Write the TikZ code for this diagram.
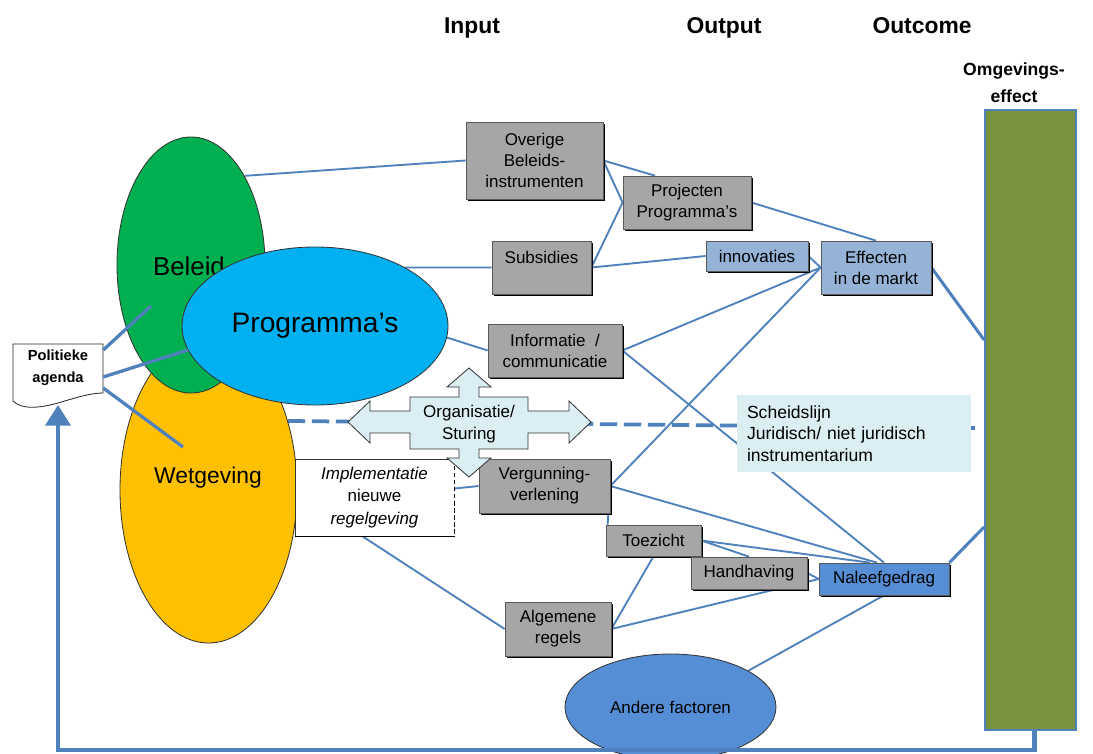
\documentclass[tikz,border=0pt]{standalone}
\usepackage{fontspec}
\setmainfont{Liberation Sans}
\usetikzlibrary{shapes.geometric,arrows.meta,shadows}

\definecolor{lineblue}{HTML}{4F81BD}
\definecolor{boxgray}{HTML}{A6A6A6}
\definecolor{paleblue}{HTML}{95B3D7}
\definecolor{midblue}{HTML}{558ED5}
\definecolor{palecyan}{HTML}{DBEEF4}
\definecolor{beleidgreen}{HTML}{00B050}
\definecolor{wetyellow}{HTML}{FFC000}
\definecolor{progcyan}{HTML}{00B0F0}
\definecolor{olivegreen}{HTML}{77933C}

\pgfdeclarelayer{bg}
\pgfsetlayers{bg,main}

\begin{document}
\begin{tikzpicture}[x=0.03cm,y=-0.03cm,
  link/.style={draw=lineblue, line width=1.6pt},
  thicklink/.style={draw=lineblue, line width=2.6pt},
  agendalink/.style={draw=lineblue, line width=2.8pt},
  dashline/.style={draw=lineblue, line width=3.2pt, dash pattern=on 0.52cm off 0.2cm},
  box/.style={rectangle, inner sep=0pt, align=center,
    font=\fontsize{14.5}{18}\selectfont, draw=black!65, line width=0.6pt,
    general shadow={fill=black, shadow xshift=1.9pt, shadow yshift=-1.9pt}},
  graybox/.style={box, fill=boxgray},
  bluebox/.style={box, fill=paleblue},
  blob/.style={ellipse, inner sep=0pt, draw=black!80, line width=0.7pt},
  header/.style={font=\bfseries\fontsize{19.5}{22}\selectfont, anchor=base},
]
\begin{pgfonlayer}{bg}
\fill[white] (0,0) rectangle (1093,753);
\end{pgfonlayer}
\useasboundingbox (0,0) rectangle (1093,753);

% column headers
\node[header] (input) at (472,33) {Input};
\node[header] (output) at (724,33) {Output};
\node[header] (outcome) at (922,33) {Outcome};
\node[font=\bfseries\fontsize{15}{23}\selectfont, align=center] (omg) at (1014,83) {Omgevings-\\effect};

% environmental effect bar
\node[fill=olivegreen, draw=lineblue, line width=1.5pt, minimum width=2.73cm,
      minimum height=18.6cm, inner sep=0pt] (green) at (1030.5,420) {};

% policy ellipses
\node[blob, fill=wetyellow, minimum width=5.31cm, minimum height=9.18cm] (wetgeving) at (208.5,490) {};
\node[font=\fontsize{19.5}{23}\selectfont] (wetgevingtext) at (208,478) {Wetgeving};
\node[blob, fill=beleidgreen, minimum width=4.44cm, minimum height=7.68cm] (beleid) at (191,265) {};
\node[font=\fontsize{22}{26}\selectfont] (beleidtext) at (189,266) {Beleid};
\node[blob, fill=progcyan, minimum width=7.98cm, minimum height=4.74cm,
      font=\fontsize{24}{28}\selectfont] (programmas) at (315,326) {Programma’s};
\node[blob, fill=midblue, minimum width=6.33cm, minimum height=3.18cm,
      font=\fontsize{14.5}{17}\selectfont] (andere) at (670.5,707) {Andere factoren};

% political agenda (document shape)
\draw[fill=white, draw=black!85, line width=0.7pt]
  (13,344) -- (103,344) -- (103,393)
  .. controls (90,393) and (75,398) .. (58,403)
  .. controls (40,408) and (22,410) .. (13,401) -- cycle;
\node[minimum width=2.7cm, minimum height=1.44cm, inner sep=0pt, align=center,
      font=\bfseries\fontsize{12.5}{18.5}\selectfont] (agenda) at (58,368) {Politieke\\agenda};
\coordinate (agendatip) at (58,405);
\coordinate (dashend) at (975,428);

\draw[agendalink] ([shift={(0,-18)}]agenda.east) -- ([shift={(-40,41)}]beleid.center);
\draw[agendalink] ([shift={(0,9)}]agenda.east) -- ([shift={(-127,24)}]programmas.center);
\draw[agendalink] ([shift={(0,20)}]agenda.east) -- ([shift={(-25.5,-43)}]wetgeving.center);

% instrument boxes
\node[graybox, minimum width=4.11cm, minimum height=2.31cm] (overige) at (534.5,160.5) {Overige\\Beleids-\\instrumenten};
\node[graybox, minimum width=2.97cm, minimum height=1.59cm] (subsidies) at (541.5,267.5) {Subsidies\\\mbox{}};
\node[graybox, minimum width=4.02cm, minimum height=1.59cm] (informatie) at (555,350.5) {Informatie~~/\\communicatie};
\node[graybox, minimum width=3.84cm, minimum height=1.59cm] (projecten) at (687,202.5) {Projecten\\Programma’s};
\node[bluebox, minimum width=3.06cm, minimum height=0.9cm] (innovaties) at (757,256) {innovaties};
\node[bluebox, minimum width=3.3cm, minimum height=1.59cm] (effecten) at (876,267.5) {Effecten\\in de markt};
\node[graybox, minimum width=3.93cm, minimum height=1.62cm] (vergunning) at (544.5,486) {Vergunning-\\verlening};
\node[graybox, minimum width=2.85cm, minimum height=0.93cm] (toezicht) at (653.5,540.5) {Toezicht};
\node[graybox, minimum width=3.48cm, minimum height=0.96cm] (handhaving) at (749,573) {Handhaving};
\node[box, fill=midblue, minimum width=3.9cm, minimum height=0.96cm] (naleef) at (884,579) {Naleefgedrag};
\node[graybox, minimum width=3.18cm, minimum height=1.62cm] (algemene) at (558,629) {Algemene\\regels};

% new regulation box with dashed right side
\node[rectangle, fill=white, draw=black!80, line width=0.6pt, minimum width=4.77cm,
      minimum height=2.31cm, inner sep=0pt, align=center,
      font=\fontsize{14.5}{19}\selectfont] (impl) at (374.5,497.5)
      {\textit{Implementatie}\\nieuwe\\\textit{regelgeving}};
\draw[white, line width=1.6pt] (impl.north east) -- (impl.south east);
\draw[black, line width=1.2pt, dash pattern=on 4pt off 2pt] (impl.north east) -- (impl.south east);
\draw[black, line width=1.2pt] (impl.south west) -- (impl.south east);

% organisation / steering cross arrow
\draw[fill=palecyan, draw=black!80, line width=0.7pt]
  (469,368) -- (491,387) -- (479,387) -- (479,397) -- (528,397) -- (528,411)
  -- (569,411) -- (569,401) -- (591,422) -- (569,443) -- (569,433) -- (528,433)
  -- (528,449) -- (479,449) -- (479,458) -- (491,458) -- (469,477) -- (447,458)
  -- (459,458) -- (459,449) -- (410,449) -- (410,433) -- (370,433) -- (370,443)
  -- (348,422) -- (370,401) -- (370,411) -- (410,411) -- (410,397) -- (459,397)
  -- (459,387) -- (447,387) -- cycle;
\node[font=\fontsize{14.5}{18.5}\selectfont, align=center] (sturing) at (469,424) {Organisatie/\\Sturing};

% dividing line legal / non-legal
\node[fill=palecyan, minimum width=7.02cm, minimum height=2.31cm, text width=6.42cm,
      align=left, inner sep=0pt, font=\fontsize{15}{18.5}\selectfont] (scheid) at (854,433.5)
      {Scheidslijn\\Juridisch/ niet juridisch\\instrumentarium};

% connectors behind the shapes
\begin{pgfonlayer}{bg}
\draw[dashline] (wetgeving.41) -- (dashend);
\draw[link] (overige.west) -- (beleid.59);
\draw[link] (overige.east) -- ([shift={(-32,0)}]projecten.north);
\draw[link] (overige.east) -- (projecten.west);
\draw[link] (subsidies.east) -- (projecten.west);
\draw[link] (subsidies.west) -- (programmas.33);
\draw[link] (subsidies.east) -- (innovaties.west);
\draw[link] (projecten.east) -- (effecten.north);
\draw[link] (innovaties.east) -- (effecten.west);
\draw[link] (informatie.west) -- (programmas.-5);
\draw[link] (informatie.east) -- (effecten.west);
\draw[link] (informatie.east) -- (naleef.north);
\draw[link] (vergunning.east) -- (effecten.west);
\draw[link] (vergunning.east) -- ([shift={(-7,0)}]naleef.north);
\draw[link] ([shift={(-2,0)}]vergunning.south east) -- ([shift={(2,0)}]toezicht.north west);
\draw[link] (toezicht.east) -- (handhaving.north);
\draw[link] (toezicht.east) -- ([shift={(-14,0)}]naleef.north);
\draw[link] (handhaving.east) -- (naleef.west);
\draw[link] (algemene.east) -- (naleef.west);
\draw[link] (algemene.east) -- (toezicht.south);
\draw[link] ([shift={(-12,0)}]impl.south) -- (algemene.west);
\draw[link] ([shift={(0,-9)}]impl.east) -- (vergunning.west);
\draw[link] (naleef.south) -- (andere.25);
\draw[thicklink] (effecten.east) -- ([shift={(0,-80)}]green.west);
\draw[thicklink] (naleef.north east) -- ([shift={(0,107)}]green.west);
\end{pgfonlayer}

% feedback loop back to the political agenda
\draw[line width=3.5pt, lineblue, -{Triangle[width=0.75cm,length=0.62cm]}]
  ([shift={(4,0)}]green.south) -- ++(0,19) -| (agendatip);
\end{tikzpicture}
\end{document}
